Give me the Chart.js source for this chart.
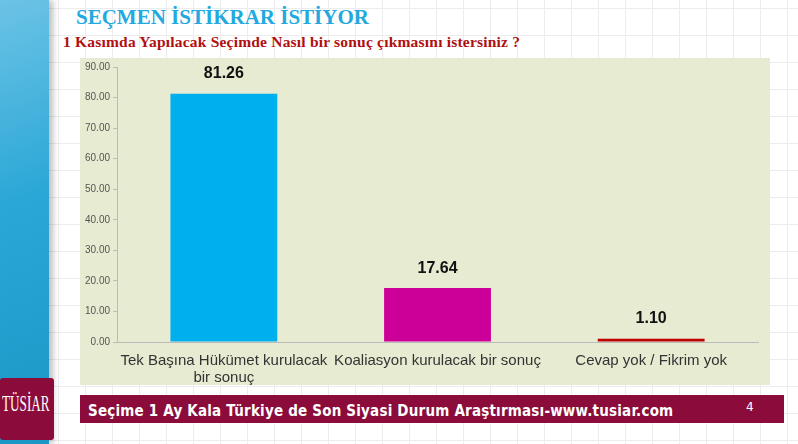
<!DOCTYPE html>
<html>
<head>
<meta charset="utf-8">
<script src="https://cdn.jsdelivr.net/npm/chart.js@4"></script>
<style>
  body { margin: 0; width: 798px; height: 444px; overflow: hidden; position: relative;
    background-color: #fff;
    background-image: linear-gradient(#ececec 1px, transparent 1px), linear-gradient(90deg, #ececec 1px, transparent 1px);
    background-size: 27px 27px; background-position: 4px 8px; }
  #strip { position: absolute; left: 0; top: 0; width: 49px; height: 444px;
    background: linear-gradient(160deg, #6cc3e6 0%, #2aa7d6 45%, #1b97c6 100%);
    box-shadow: 4px 0 6px rgba(0,0,0,0.25); }
  #title { position: absolute; left: 76px; top: 5px; font: bold 21px "Liberation Serif", serif; color: #22a9e0; }
  #sub { position: absolute; left: 63px; top: 33px; font: bold 15.5px "Liberation Serif", serif; color: #b01010; letter-spacing: 0.2px; }
  #box { position: absolute; left: 80px; top: 58px; width: 690px; height: 327px; background: #e7ebd1; }
  #footer { position: absolute; left: 80px; top: 395px; width: 704px; height: 28px; background: #8b0c3a; }
  #ftext { position: absolute; left: 8px; top: 7px; font: bold 15px "DejaVu Sans Condensed", sans-serif; color: #fff; letter-spacing: 0.2px; }
  #fnum { position: absolute; left: 666px; top: 5px; font: 12px "DejaVu Sans", sans-serif; color: #fff; }
  #logo { position: absolute; left: 0; top: 378px; width: 54px; height: 62px; background: #8b0c3a; border-radius: 3px; overflow: hidden; }
  #logo span { position: absolute; left: 2px; top: 12px; color: #fff; font: 24px "Liberation Serif", serif; transform: scaleX(0.55); transform-origin: left top; letter-spacing: 0; }
</style>
</head>
<body>
<div id="strip"></div>
<div id="title">SEÇMEN İSTİKRAR İSTİYOR</div>
<div id="sub">1 Kasımda Yapılacak Seçimde Nasıl bir sonuç çıkmasını istersiniz ?</div>
<div id="box"><canvas id="chart" width="690" height="327"></canvas></div>
<div id="footer"><div id="ftext">Seçime 1 Ay Kala Türkiye de Son Siyasi Durum Araştırması-www.tusiar.com</div><div id="fnum">4</div></div>
<div id="logo"><span>TÜSİAR</span></div>
<script>
const categories = [["Tek Başına Hükümet kurulacak", "bir sonuç"], "Koaliasyon kurulacak bir sonuç", "Cevap yok / Fikrim yok"]
const values = [81.26, 17.64, 1.10]
const barColors = ["#00b0ee", "#cc0099", "#c00000"]
const yTicks = [0, 10, 20, 30, 40, 50, 60, 70, 80, 90]

const valueLabels = {
  id: "valueLabels",
  afterDatasetsDraw(chart) {
    const ctx = chart.ctx
    const meta = chart.getDatasetMeta(0)
    ctx.save()
    ctx.font = "bold 16px 'Liberation Sans', Arial, sans-serif"
    ctx.fillStyle = "#111"
    ctx.textAlign = "center"
    ctx.textBaseline = "bottom"
    meta.data.forEach((bar, i) => {
      ctx.fillText(values[i].toFixed(2), bar.x, bar.y - 12)
    })
    ctx.restore()
  }
}

const ctx = document.getElementById("chart").getContext("2d")
new Chart(ctx, {
  type: "bar",
  data: {
    labels: categories,
    datasets: [{ data: values, backgroundColor: barColors, barPercentage: 0.5, categoryPercentage: 1 }]
  },
  options: {
    responsive: false,
    animation: false,
    layout: { padding: { top: 4, right: 12, bottom: 0, left: 2 } },
    plugins: { legend: { display: false }, tooltip: { enabled: false } },
    scales: {
      y: {
        min: 0, max: 90,
        afterBuildTicks: (axis) => { axis.ticks = yTicks.map(v => ({ value: v })) },
        ticks: { callback: v => v.toFixed(2), font: { size: 10, family: "'Liberation Sans', Arial" }, color: "#555", padding: 3 },
        grid: { drawOnChartArea: false, color: "#bbb", tickLength: 4 },
        border: { color: "#bbb" }
      },
      x: {
        afterFit: (axis) => { axis.height = 43 },
        ticks: { font: { size: 15, family: "'Liberation Sans', Arial", lineHeight: 1.1 }, color: "#333", maxRotation: 0, padding: 3 },
        grid: { display: false },
        border: { color: "#bbb" }
      }
    }
  },
  plugins: [valueLabels]
})
</script>
</body>
</html>
